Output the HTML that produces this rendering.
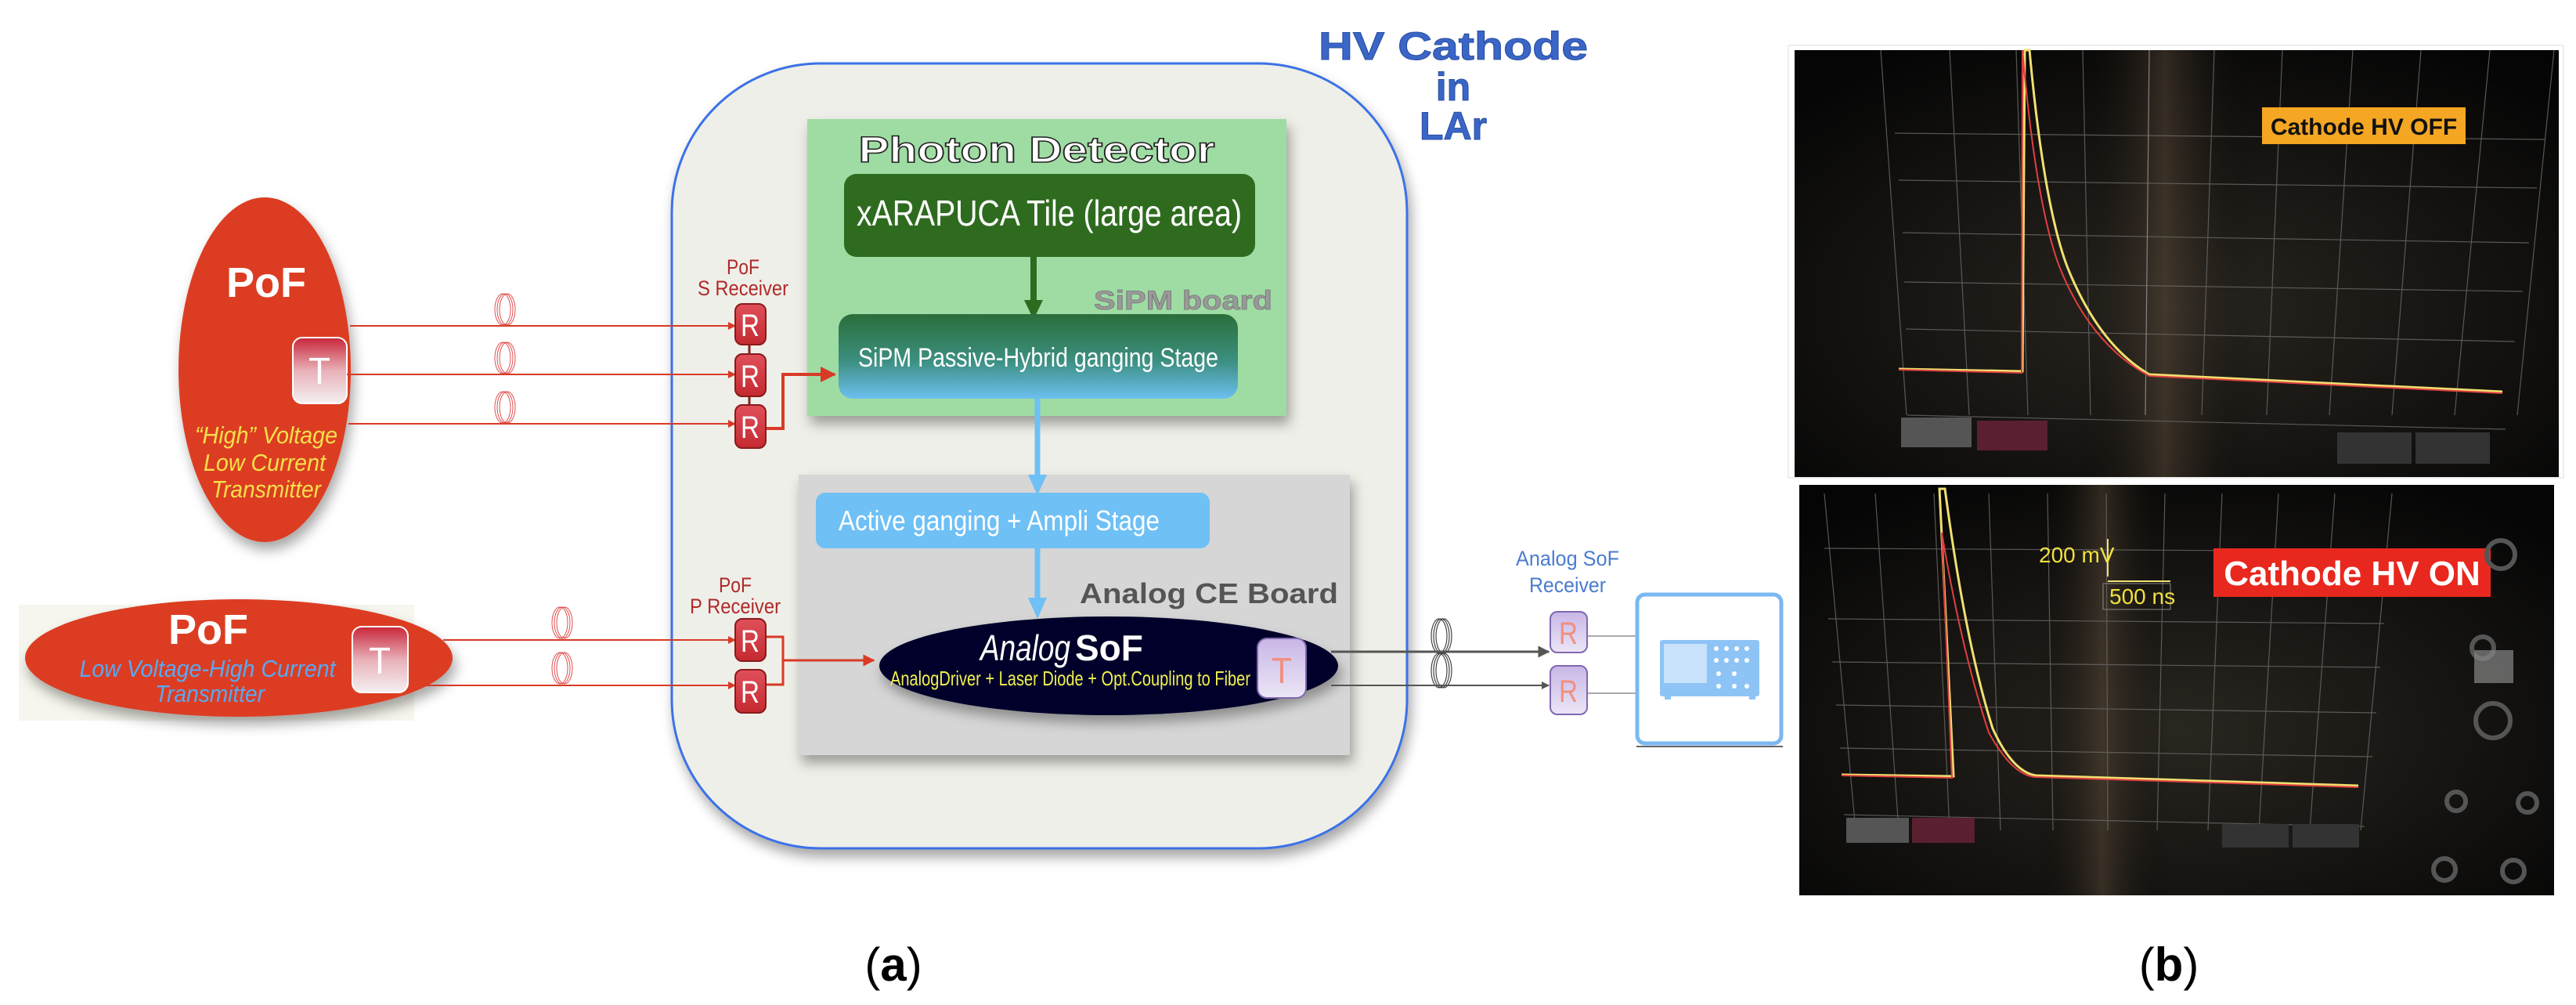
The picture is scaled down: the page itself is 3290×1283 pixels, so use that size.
<!DOCTYPE html>
<html><head><meta charset="utf-8"><style>
html,body{margin:0;padding:0;background:#fff;}
svg{display:block;}
text{font-family:"Liberation Sans",sans-serif;}
</style></head><body>
<svg width="3290" height="1283" viewBox="0 0 3290 1283" xmlns="http://www.w3.org/2000/svg">
<defs>
<filter id="sh" x="-10%" y="-10%" width="130%" height="130%"><feDropShadow dx="4" dy="10" stdDeviation="8" flood-color="#000" flood-opacity="0.35"/></filter>
<linearGradient id="sipm" x1="0" y1="0" x2="0" y2="1"><stop offset="0" stop-color="#2a6e3a"/><stop offset="0.55" stop-color="#3c8f80"/><stop offset="1" stop-color="#6cc0f0"/></linearGradient>
<linearGradient id="rbtn" x1="0" y1="0" x2="0" y2="1"><stop offset="0" stop-color="#e0505a"/><stop offset="1" stop-color="#c42a30"/></linearGradient>
<linearGradient id="tbtn" x1="0" y1="0" x2="0" y2="1"><stop offset="0" stop-color="#c8263a"/><stop offset="0.5" stop-color="#e8b0b8"/><stop offset="1" stop-color="#f4f0f2"/></linearGradient>
<linearGradient id="lav" x1="0" y1="0" x2="0" y2="1"><stop offset="0" stop-color="#c8b6e6"/><stop offset="1" stop-color="#ece6f6"/></linearGradient>
<radialGradient id="photo1" cx="0.5" cy="0.6" r="0.7"><stop offset="0" stop-color="#2a2620"/><stop offset="1" stop-color="#050505"/></radialGradient>
<linearGradient id="beam" x1="0" y1="0" x2="1" y2="0"><stop offset="0" stop-color="#000" stop-opacity="0"/><stop offset="0.5" stop-color="#5a4a38" stop-opacity="0.5"/><stop offset="1" stop-color="#000" stop-opacity="0"/></linearGradient>
<marker id="ar" viewBox="0 0 10 10" refX="9" refY="5" markerWidth="5" markerHeight="5" orient="auto"><path d="M0,0 L10,5 L0,10 z" fill="#d83a26"/></marker>
<marker id="ag" viewBox="0 0 10 10" refX="9" refY="5" markerWidth="5" markerHeight="5" orient="auto"><path d="M0,0 L10,5 L0,10 z" fill="#555"/></marker>
</defs>

<!-- HV Cathode title -->
<g font-weight="bold" fill="#3a66c8" font-size="50" text-anchor="middle" stroke="#2a4ea0" stroke-width="1">
<text x="1856" y="76" textLength="344" lengthAdjust="spacingAndGlyphs">HV Cathode</text>
<text x="1856" y="128">in</text>
<text x="1856" y="178">LAr</text>
</g>

<!-- Big rounded container -->
<rect x="858" y="81" width="939" height="1002" rx="190" ry="190" fill="#efefe9" stroke="#3b72e6" stroke-width="3" filter="url(#sh)"/>

<!-- Green photon detector -->
<rect x="1031" y="152" width="612" height="379" fill="#9edca3" filter="url(#sh)"/>
<text x="1324" y="207" font-size="46" font-weight="bold" fill="#fff" stroke="#222" stroke-width="1.5" text-anchor="middle" textLength="455" lengthAdjust="spacingAndGlyphs">Photon Detector</text>
<rect x="1078" y="222" width="525" height="106" rx="16" fill="#2f6b1f"/>
<text x="1340" y="288" font-size="46" fill="#fff" text-anchor="middle" textLength="492" lengthAdjust="spacingAndGlyphs">xARAPUCA Tile (large area)</text>
<line x1="1320" y1="328" x2="1320" y2="385" stroke="#2f6b1f" stroke-width="8"/>
<path d="M1308,383 L1332,383 L1320,408 z" fill="#2f6b1f"/>
<text x="1511" y="395" font-size="34" font-weight="bold" fill="#9a9a9a" stroke="#777" stroke-width="0.8" text-anchor="middle" textLength="228" lengthAdjust="spacingAndGlyphs">SiPM board</text>
<rect x="1071" y="401" width="510" height="108" rx="18" fill="url(#sipm)"/>
<text x="1326" y="468" font-size="34" fill="#fff" text-anchor="middle" textLength="460" lengthAdjust="spacingAndGlyphs">SiPM Passive-Hybrid ganging Stage</text>

<!-- Gray CE board -->
<rect x="1020" y="606" width="704" height="358" fill="#d6d6d6" filter="url(#sh)"/>
<line x1="1325" y1="509" x2="1325" y2="608" stroke="#6ec0f5" stroke-width="7"/>
<path d="M1313,606 L1337,606 L1325,632 z" fill="#6ec0f5"/>
<rect x="1042" y="629" width="503" height="71" rx="12" fill="#6ec0f5"/>
<text x="1071" y="677" font-size="36" fill="#fff" textLength="410" lengthAdjust="spacingAndGlyphs">Active ganging + Ampli Stage</text>
<line x1="1325" y1="700" x2="1325" y2="765" stroke="#6ec0f5" stroke-width="7"/>
<path d="M1313,763 L1337,763 L1325,790 z" fill="#6ec0f5"/>
<text x="1544" y="770" font-size="36" font-weight="bold" fill="#555" text-anchor="middle" textLength="330" lengthAdjust="spacingAndGlyphs">Analog CE Board</text>

<!-- Analog SoF ellipse -->
<ellipse cx="1416" cy="850" rx="293" ry="63" fill="#05052a" filter="url(#sh)"/>
<text x="1252" y="843" font-size="46" font-style="italic" fill="#fff" textLength="115" lengthAdjust="spacingAndGlyphs">Analog</text>
<text x="1373" y="843" font-size="46" font-weight="bold" fill="#fff">SoF</text>
<text x="1137" y="875" font-size="26" fill="#f0f050" textLength="460" lengthAdjust="spacingAndGlyphs">AnalogDriver + Laser Diode + Opt.Coupling to Fiber</text>
<rect x="1606" y="815" width="62" height="76" rx="12" fill="url(#lav)" stroke="#8068b0" stroke-width="2"/>
<text x="1637" y="872" font-size="46" fill="#f09080" text-anchor="middle" textLength="26" lengthAdjust="spacingAndGlyphs">T</text>

<!-- PoF 1 -->
<ellipse cx="338" cy="472" rx="110" ry="220" fill="#dc3c24" filter="url(#sh)"/>
<text x="340" y="379" font-size="54" font-weight="bold" fill="#fff" text-anchor="middle">PoF</text>
<rect x="374" y="431" width="69" height="84" rx="12" fill="url(#tbtn)" stroke="#fff" stroke-width="2"/>
<text x="408" y="490" font-size="48" fill="#fff" text-anchor="middle" textLength="28" lengthAdjust="spacingAndGlyphs">T</text>
<g font-size="31" font-style="italic" fill="#f4e04a" text-anchor="middle">
<text x="340" y="566" textLength="182" lengthAdjust="spacingAndGlyphs">“High” Voltage</text>
<text x="338" y="601" textLength="156" lengthAdjust="spacingAndGlyphs">Low Current</text>
<text x="340" y="635" textLength="140" lengthAdjust="spacingAndGlyphs">Transmitter</text>
</g>

<!-- PoF 2 -->
<rect x="24" y="772" width="505" height="148" fill="#f6f6ee"/>
<ellipse cx="305" cy="840" rx="273" ry="75" fill="#dc3c24" filter="url(#sh)"/>
<text x="266" y="822" font-size="54" font-weight="bold" fill="#fff" text-anchor="middle">PoF</text>
<g font-size="31" font-style="italic" fill="#5aa8f0" text-anchor="middle">
<text x="265" y="864" textLength="327" lengthAdjust="spacingAndGlyphs">Low Voltage-High Current</text>
<text x="268" y="896" textLength="140" lengthAdjust="spacingAndGlyphs">Transmitter</text>
</g>
<rect x="450" y="800" width="71" height="84" rx="12" fill="url(#tbtn)" stroke="#fff" stroke-width="2"/>
<text x="485" y="860" font-size="48" fill="#fff" text-anchor="middle" textLength="28" lengthAdjust="spacingAndGlyphs">T</text>

<!-- red fiber lines -->
<g stroke="#d83a26" stroke-width="2" fill="none">
<line x1="447" y1="416" x2="939" y2="416" marker-end="url(#ar)"/>
<line x1="443" y1="478" x2="939" y2="478" marker-end="url(#ar)"/>
<line x1="445" y1="541" x2="939" y2="541" marker-end="url(#ar)"/>
<line x1="566" y1="817" x2="939" y2="817" marker-end="url(#ar)"/>
<line x1="540" y1="875" x2="939" y2="875" marker-end="url(#ar)"/>
<polyline points="978,547 1000,547 1000,478 1066,478" stroke-width="4" marker-end="url(#ar)"/>
<polyline points="978,813 1000,813 1000,874 978,874" stroke-width="3"/>
<line x1="1000" y1="843" x2="1116" y2="843" stroke-width="3" marker-end="url(#ar)"/>
<line x1="957" y1="440" x2="957" y2="520" stroke="#8a2020" stroke-width="3"/>
</g>
<!-- coils -->
<g fill="none" stroke="#e05050" stroke-width="1">
<g transform="translate(642,395)"><ellipse rx="10" ry="20"/><ellipse cx="3" rx="10" ry="20"/><ellipse cx="6" rx="10" ry="20"/></g>
<g transform="translate(642,457)"><ellipse rx="10" ry="20"/><ellipse cx="3" rx="10" ry="20"/><ellipse cx="6" rx="10" ry="20"/></g>
<g transform="translate(642,520)"><ellipse rx="10" ry="20"/><ellipse cx="3" rx="10" ry="20"/><ellipse cx="6" rx="10" ry="20"/></g>
<g transform="translate(715,795)"><ellipse rx="10" ry="20"/><ellipse cx="3" rx="10" ry="20"/><ellipse cx="6" rx="10" ry="20"/></g>
<g transform="translate(715,853)"><ellipse rx="10" ry="20"/><ellipse cx="3" rx="10" ry="20"/><ellipse cx="6" rx="10" ry="20"/></g>
</g>
<g fill="none" stroke="#444" stroke-width="1.2">
<g transform="translate(1838,812)"><ellipse rx="10" ry="22"/><ellipse cx="3" rx="10" ry="22"/><ellipse cx="6" rx="10" ry="22"/></g>
<g transform="translate(1838,856)"><ellipse rx="10" ry="22"/><ellipse cx="3" rx="10" ry="22"/><ellipse cx="6" rx="10" ry="22"/></g>
</g>

<!-- receivers -->
<g font-size="40" fill="#fff" text-anchor="middle">
<rect x="939" y="388" width="39" height="52" rx="9" fill="url(#rbtn)" stroke="#8a1a1a" stroke-width="2"/><text x="958" y="429" textLength="24" lengthAdjust="spacingAndGlyphs">R</text>
<rect x="939" y="452" width="39" height="54" rx="9" fill="url(#rbtn)" stroke="#8a1a1a" stroke-width="2"/><text x="958" y="494" textLength="24" lengthAdjust="spacingAndGlyphs">R</text>
<rect x="939" y="517" width="39" height="55" rx="9" fill="url(#rbtn)" stroke="#8a1a1a" stroke-width="2"/><text x="958" y="559" textLength="24" lengthAdjust="spacingAndGlyphs">R</text>
<rect x="939" y="790" width="39" height="54" rx="9" fill="url(#rbtn)" stroke="#8a1a1a" stroke-width="2"/><text x="958" y="832" textLength="24" lengthAdjust="spacingAndGlyphs">R</text>
<rect x="939" y="855" width="39" height="55" rx="9" fill="url(#rbtn)" stroke="#8a1a1a" stroke-width="2"/><text x="958" y="897" textLength="24" lengthAdjust="spacingAndGlyphs">R</text>
</g>
<g font-size="27" fill="#b02a2a" text-anchor="middle">
<text x="949" y="350" textLength="42" lengthAdjust="spacingAndGlyphs">PoF</text><text x="949" y="377" textLength="116" lengthAdjust="spacingAndGlyphs">S Receiver</text>
<text x="939" y="756" textLength="42" lengthAdjust="spacingAndGlyphs">PoF</text><text x="939" y="783" textLength="116" lengthAdjust="spacingAndGlyphs">P Receiver</text>
</g>

<!-- SoF output -->
<g stroke="#555" stroke-width="3">
<line x1="1700" y1="832" x2="1978" y2="832" marker-end="url(#ag)"/>
<line x1="1700" y1="875" x2="1978" y2="875" stroke-width="2" marker-end="url(#ag)"/>
<line x1="2027" y1="812" x2="2090" y2="812" stroke="#aaa" stroke-width="2"/>
<line x1="2027" y1="885" x2="2090" y2="885" stroke="#aaa" stroke-width="2"/>
</g>
<g font-size="40" fill="#f09080" text-anchor="middle">
<rect x="1980" y="781" width="47" height="52" rx="9" fill="url(#lav)" stroke="#8068b0" stroke-width="2"/><text x="2003" y="822" textLength="24" lengthAdjust="spacingAndGlyphs">R</text>
<rect x="1980" y="850" width="47" height="62" rx="9" fill="url(#lav)" stroke="#8068b0" stroke-width="2"/><text x="2003" y="896" textLength="24" lengthAdjust="spacingAndGlyphs">R</text>
</g>
<g font-size="27" fill="#4a7ccf" text-anchor="middle">
<text x="2002" y="722" textLength="132" lengthAdjust="spacingAndGlyphs">Analog SoF</text><text x="2002" y="756" textLength="98" lengthAdjust="spacingAndGlyphs">Receiver</text>
</g>
<rect x="2091" y="759" width="184" height="190" rx="10" fill="#fff" stroke="#7ab8f2" stroke-width="5"/>
<line x1="2090" y1="953" x2="2277" y2="953" stroke="#333" stroke-width="1.5"/>
<g fill="#8ec4f5">
<rect x="2120" y="817" width="127" height="72" rx="3"/>
<rect x="2126" y="883" width="8" height="10"/><rect x="2234" y="883" width="8" height="10"/>
</g>
<rect x="2125" y="822" width="55" height="50" fill="#fff" opacity="0.5"/>
<g fill="#fff"><circle cx="2192" cy="828" r="3"/><circle cx="2205" cy="828" r="3"/><circle cx="2218" cy="828" r="3"/><circle cx="2231" cy="828" r="3"/><circle cx="2192" cy="843" r="3"/><circle cx="2205" cy="843" r="3"/><circle cx="2218" cy="843" r="3"/><circle cx="2231" cy="843" r="3"/><circle cx="2195" cy="860" r="3"/><circle cx="2215" cy="860" r="3"/><circle cx="2195" cy="876" r="3"/><circle cx="2215" cy="876" r="3"/><circle cx="2231" cy="876" r="3"/></g>

<text x="1141" y="1252" font-family="Liberation Serif" font-size="60" text-anchor="middle">(<tspan font-weight="bold">a</tspan>)</text>
<text x="2770" y="1252" font-family="Liberation Serif" font-size="60" text-anchor="middle">(<tspan font-weight="bold">b</tspan>)</text>

<!-- Top photo -->
<rect x="2284" y="58" width="990" height="552" fill="#fff" stroke="#ddd"/>
<rect x="2292" y="64" width="976" height="545" fill="url(#photo1)"/>
<rect x="2650" y="64" width="230" height="545" fill="url(#beam)"/>
<g stroke="#6a6a6a" stroke-width="1.2" opacity="0.8">
<line x1="2402" y1="64" x2="2435" y2="530"/><line x1="2490" y1="64" x2="2515" y2="530"/><line x1="2575" y1="64" x2="2590" y2="530"/><line x1="2660" y1="64" x2="2670" y2="530"/><line x1="2828" y1="64" x2="2812" y2="530"/><line x1="2915" y1="64" x2="2895" y2="530"/><line x1="3005" y1="64" x2="2975" y2="530"/><line x1="3092" y1="64" x2="3055" y2="530"/><line x1="3180" y1="64" x2="3135" y2="530"/><line x1="3262" y1="64" x2="3215" y2="530"/>
<line x1="2420" y1="170" x2="3250" y2="178"/><line x1="2425" y1="230" x2="3240" y2="240"/><line x1="2430" y1="297" x2="3230" y2="310"/><line x1="2432" y1="360" x2="3222" y2="372"/><line x1="2434" y1="420" x2="3212" y2="436"/><line x1="2436" y1="530" x2="3200" y2="548"/>
<line x1="2745" y1="64" x2="2740" y2="530" stroke="#999"/>
</g>
<path d="M2425,471 L2583,474 L2586,64 L2592,64 Q2610,260 2640,340 Q2680,440 2745,478 L3196,500" fill="none" stroke="#f0e070" stroke-width="3"/>
<path d="M2425,472 L2582,476 L2583,64 Q2600,260 2630,340 Q2670,440 2745,480 L3196,502" fill="none" stroke="#e04040" stroke-width="2"/>
<rect x="2889" y="137" width="260" height="47" fill="#f5a623"/>
<text x="3019" y="172" font-size="30" font-weight="bold" fill="#111" text-anchor="middle">Cathode HV OFF</text>
<rect x="2428" y="533" width="90" height="38" fill="#555"/><rect x="2525" y="537" width="90" height="38" fill="#5a2030"/>
<rect x="2985" y="552" width="95" height="40" fill="#333"/><rect x="3085" y="552" width="95" height="40" fill="#333"/>

<!-- Bottom photo -->
<rect x="2290" y="614" width="984" height="530" fill="#fff"/>
<rect x="2298" y="619" width="964" height="524" fill="url(#photo1)"/>
<rect x="2600" y="619" width="170" height="524" fill="url(#beam)"/>
<g stroke="#6a6a6a" stroke-width="1.2" opacity="0.8">
<line x1="2330" y1="630" x2="2370" y2="1060"/><line x1="2395" y1="630" x2="2425" y2="1060"/><line x1="2470" y1="630" x2="2490" y2="1060"/><line x1="2540" y1="630" x2="2555" y2="1060"/><line x1="2615" y1="630" x2="2622" y2="1060"/><line x1="2690" y1="630" x2="2692" y2="1060"/><line x1="2765" y1="630" x2="2755" y2="1060"/><line x1="2838" y1="630" x2="2820" y2="1060"/><line x1="2910" y1="630" x2="2885" y2="1060"/><line x1="2982" y1="630" x2="2950" y2="1060"/><line x1="3055" y1="630" x2="3015" y2="1060"/>
<line x1="2330" y1="700" x2="3050" y2="704"/><line x1="2335" y1="790" x2="3045" y2="796"/><line x1="2340" y1="845" x2="3040" y2="852"/><line x1="2345" y1="900" x2="3035" y2="910"/><line x1="2350" y1="955" x2="3030" y2="966"/><line x1="2355" y1="1040" x2="3020" y2="1055"/>
</g>
<path d="M2352,989 L2495,991 L2477,624 L2484,624 Q2510,820 2545,930 Q2570,985 2600,990 L3012,1003" fill="none" stroke="#f0e070" stroke-width="3"/>
<path d="M2352,990 L2493,993 L2480,680 Q2505,830 2540,935 Q2570,990 2600,992 L3012,1005" fill="none" stroke="#e04040" stroke-width="2"/>
<line x1="2692" y1="688" x2="2692" y2="736" stroke="#f0e070" stroke-width="2"/>
<line x1="2692" y1="742" x2="2772" y2="742" stroke="#f0e070" stroke-width="2"/>
<text x="2604" y="718" font-size="28" fill="#f0e040">200 mV</text>
<rect x="2686" y="745" width="86" height="33" fill="none" stroke="#888" stroke-width="1"/>
<text x="2694" y="771" font-size="28" fill="#f0e040">500 ns</text>
<rect x="2827" y="700" width="354" height="62" fill="#e8281e"/>
<text x="3004" y="747" font-size="44" font-weight="bold" fill="#fff" text-anchor="middle">Cathode HV ON</text>
<g fill="none" stroke="#555" stroke-width="6"><circle cx="3194" cy="708" r="18"/><circle cx="3171" cy="827" r="14"/><circle cx="3184" cy="920" r="22"/><circle cx="3137" cy="1023" r="12"/><circle cx="3228" cy="1025" r="12"/><circle cx="3122" cy="1110" r="14"/><circle cx="3210" cy="1112" r="14"/></g>
<rect x="3160" y="830" width="50" height="42" fill="#888" opacity="0.7"/>
<rect x="2358" y="1044" width="80" height="32" fill="#555"/><rect x="2442" y="1044" width="80" height="32" fill="#5a2030"/>
<rect x="2838" y="1052" width="85" height="30" fill="#333"/><rect x="2928" y="1052" width="85" height="30" fill="#333"/>
</svg>
</body></html>
